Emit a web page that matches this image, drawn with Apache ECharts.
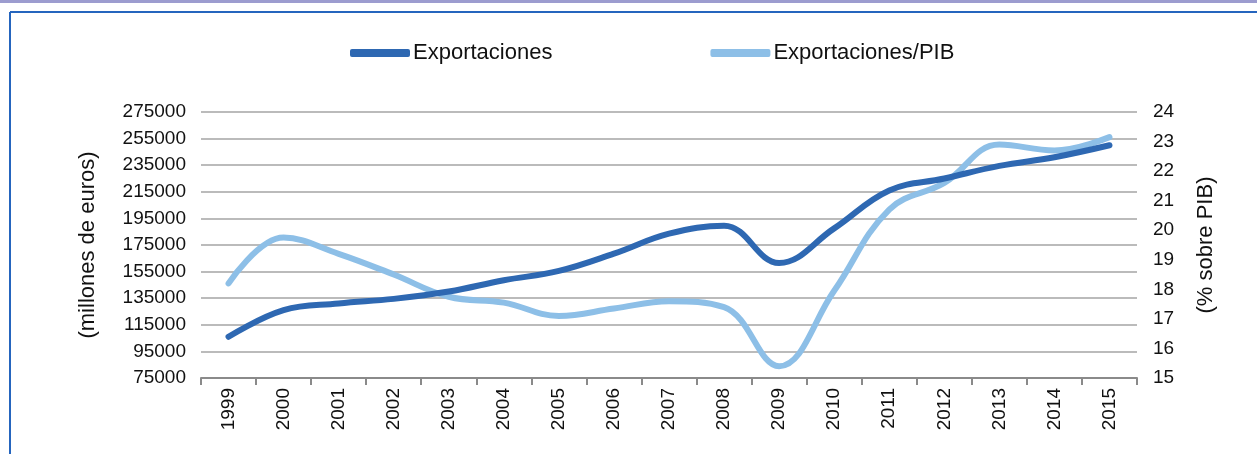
<!DOCTYPE html>
<html>
<head>
<meta charset="utf-8">
<script src="https://cdn.jsdelivr.net/npm/echarts@6/dist/echarts.min.js"></script>
<style>
  html, body { margin: 0; padding: 0; background: #fff; }
  #chart { width: 1257px; height: 454px; }
</style>
</head>
<body>
<div id="chart"></div>
<script>
const years = ['1999', '2000', '2001', '2002', '2003', '2004', '2005', '2006', '2007',
  '2008', '2009', '2010', '2011', '2012', '2013', '2014', '2015']
// millones de euros
const exportaciones = [106000, 126000, 131000, 134500, 140000, 148500, 155500, 168500, 183500,
  189500, 161500, 187500, 216000, 225000, 234500, 241000, 250000]
// % sobre PIB
const exportacionesPib = [18.2, 19.75, 19.2, 18.5, 17.75, 17.55, 17.1, 17.35, 17.6,
  17.4, 15.4, 17.95, 20.7, 21.6, 22.9, 22.7, 23.15]

const darkBlue = '#2E68B2'
const lightBlue = '#8DBFE7'
const gridColor = '#BBBBBB'
const axisLineColor = '#8A8A8A'
const fontFamily = '"Liberation Sans", Arial, sans-serif'

const chart = echarts.init(document.getElementById('chart'))

const lineDefault = {
  type: 'line',
  smooth: 0.4,
  symbol: 'none',
  animation: false
}

chart.setOption({
  backgroundColor: '#fff',
  textStyle: { fontFamily },
  graphic: [
    // marco superior / izquierdo
    { type: 'rect', shape: { x: 0, y: 0, width: 1257, height: 3 }, style: { fill: '#9C9CCF' } },
    { type: 'line', shape: { x1: 10, y1: 12, x2: 1257, y2: 12 }, style: { stroke: '#2565BE', lineWidth: 2 } },
    { type: 'line', shape: { x1: 10, y1: 12, x2: 10, y2: 454 }, style: { stroke: '#2565BE', lineWidth: 2 } }
  ],
  legend: {
    top: 37,
    left: 345,
    itemWidth: 60,
    itemHeight: 8,
    itemGap: 158,
    icon: 'roundRect',
    textStyle: { fontSize: 22, color: '#111', fontFamily, padding: [0, 0, 0, -2] },
    data: ['Exportaciones', 'Exportaciones/PIB']
  },
  grid: {
    left: 201,
    right: 120,
    top: 112,
    bottom: 76
  },
  xAxis: {
    type: 'category',
    data: years,
    boundaryGap: true,
    axisLine: { lineStyle: { color: axisLineColor, width: 2 } },
    axisTick: { show: true, length: 7, lineStyle: { color: axisLineColor, width: 2 } },
    axisLabel: { rotate: 90, fontSize: 19, color: '#111', margin: 10, interval: 0 },
    splitLine: { show: false }
  },
  yAxis: [
    {
      type: 'value',
      name: '(millones de euros)',
      nameLocation: 'middle',
      nameGap: 102,
      nameRotate: 90,
      nameTextStyle: { fontSize: 22, color: '#111' },
      min: 75000,
      max: 275000,
      interval: 20000,
      axisLine: { show: false },
      axisTick: { show: false },
      axisLabel: { fontSize: 19, color: '#111', margin: 15, formatter: v => String(v) },
      splitLine: { lineStyle: { color: gridColor, width: 2 } }
    },
    {
      type: 'value',
      name: '(% sobre PIB)',
      nameLocation: 'middle',
      nameGap: 58,
      nameRotate: 90,
      nameTextStyle: { fontSize: 22, color: '#111' },
      min: 15,
      max: 24,
      interval: 1,
      axisLine: { show: false },
      axisTick: { show: false },
      axisLabel: { fontSize: 19, color: '#111', margin: 16 },
      splitLine: { show: false }
    }
  ],
  series: [
    Object.assign({}, lineDefault, {
      name: 'Exportaciones',
      yAxisIndex: 0,
      data: exportaciones,
      itemStyle: { color: darkBlue },
      lineStyle: { width: 6, color: darkBlue, cap: 'round' },
      z: 3
    }),
    Object.assign({}, lineDefault, {
      name: 'Exportaciones/PIB',
      yAxisIndex: 1,
      data: exportacionesPib,
      itemStyle: { color: lightBlue },
      lineStyle: { width: 6, color: lightBlue, cap: 'round' },
      z: 2
    })
  ]
})
</script>
</body>
</html>
